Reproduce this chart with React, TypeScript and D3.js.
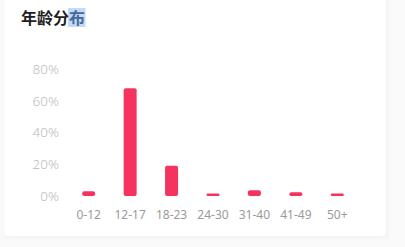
import React from "react";
import * as d3 from "d3";

// Age groups and their share of users (%)
const categories = ["0-12", "12-17", "18-23", "24-30", "31-40", "41-49", "50+"];
const shares = [3.0, 67.8, 19.0, 1.5, 3.6, 2.3, 1.5];
const yTicks = [0, 20, 40, 60, 80];
const title = "年龄分";
const titleTail = "布";

const W = 405;
const H = 247;
const margin = { left: 68, right: 47, top: 69, bottom: 51 };

export default function App() {
  const x = d3
    .scaleBand<string>()
    .domain(categories)
    .range([margin.left, W - margin.right])
    .paddingInner(0.69)
    .paddingOuter(0.345);
  const y = d3.scaleLinear().domain([0, 80]).range([H - margin.bottom, margin.top]);
  const barW = 13;
  const font = "'Noto Sans', 'Noto Sans CJK SC', sans-serif";

  return (
    <svg
      width={W}
      height={H}
      style={{ position: "fixed", left: 0, top: 0, display: "block" }}
    >
      <defs>
        <filter id="panelShadow" x="-10%" y="-10%" width="120%" height="120%">
          <feGaussianBlur stdDeviation="2.5" />
        </filter>
      </defs>
      <rect x={0} y={0} width={W} height={H} fill="#fafafa" />
      <rect x={4} y={-20} width={384} height={258} fill="#f1f1f1" filter="url(#panelShadow)" />
      <rect x={4} y={-20} width={382} height={256} rx={4} fill="#ffffff" />

      {/* title with highlighted last character */}
      <rect x={68} y={8} width={17.5} height={19} fill="#c2daf3" />
      <text
        x={21}
        y={23.5}
        fontFamily="'Noto Sans CJK SC', sans-serif"
        fontWeight={700}
        fontSize={16}
        fill="#1e1e1e"
      >
        {title}
        <tspan fill="#46689a">{titleTail}</tspan>
      </text>

      {/* y-axis labels */}
      {yTicks.map((t) => (
        <text
          key={t}
          x={59}
          y={y(t)}
          dy="0.36em"
          textAnchor="end"
          fontFamily={font}
          fontSize={13.5}
          fontWeight={300}
          fill="#bbbbbb"
        >
          {`${t}%`}
        </text>
      ))}

      {/* bars */}
      {categories.map((c, i) => {
        const cx = (x(c) as number) + x.bandwidth() / 2;
        const top = y(shares[i]);
        const h = y(0) - top;
        return (
          <rect
            key={c}
            x={cx - barW / 2}
            y={top}
            width={barW}
            height={h}
            rx={Math.min(2, h / 2)}
            fill="#f5335f"
          />
        );
      })}

      {/* x-axis labels */}
      {categories.map((c) => (
        <text
          key={c}
          x={(x(c) as number) + x.bandwidth() / 2}
          y={219}
          textAnchor="middle"
          fontFamily={font}
          fontSize={12}
          fill="#9a9a9a"
        >
          {c}
        </text>
      ))}
    </svg>
  );
}
